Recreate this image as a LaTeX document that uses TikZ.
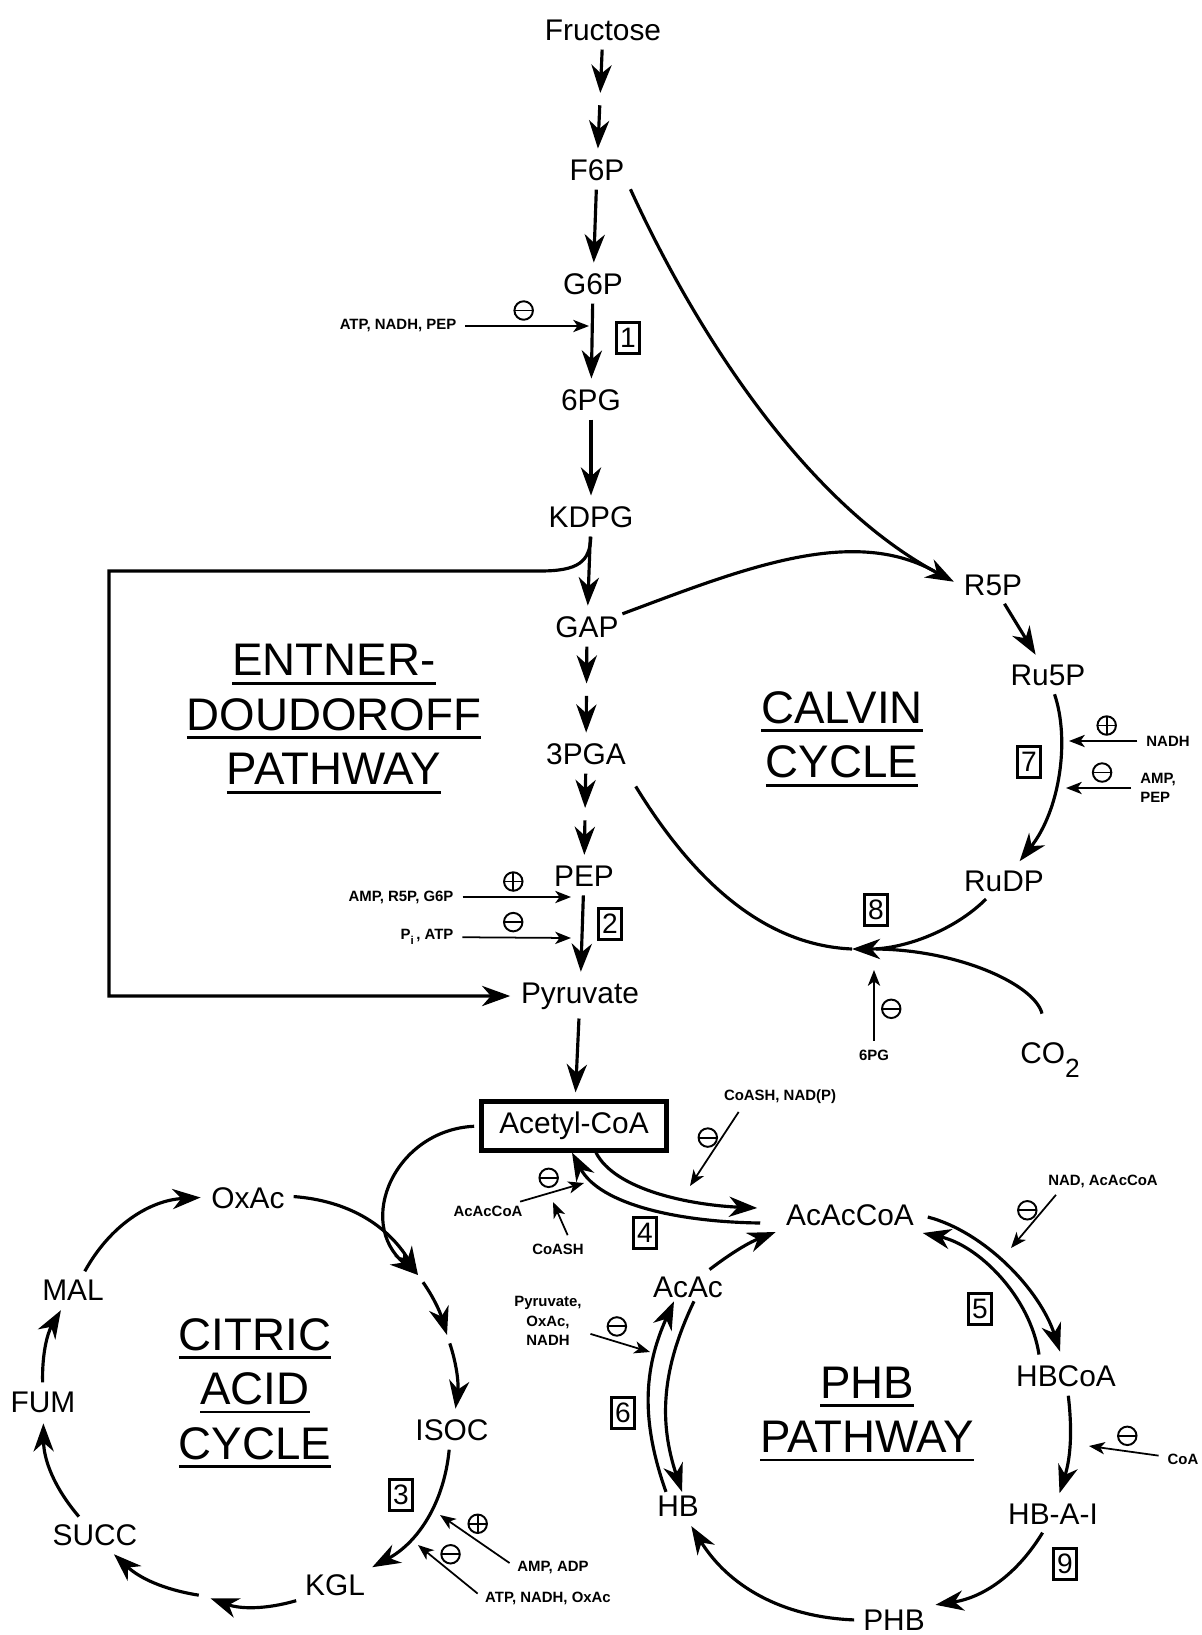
\documentclass[tikz,border=0pt]{standalone}
\usepackage{fontspec}
\setmainfont{Liberation Sans}
\usetikzlibrary{arrows.meta, positioning, calc}
\newcommand{\ttlul}[1]{\setbox0\hbox{#1}\rlap{\rule[-5pt]{\wd0}{1.6pt}}\box0}

\begin{document}
\begin{tikzpicture}[x=0.02cm, y=-0.02cm,
  >=Stealth,
  met/.style={font=\fontsize{17}{20}\selectfont, inner sep=2pt},
  eff/.style={font=\fontsize{8.5}{11}\selectfont\bfseries, align=center, inner sep=1pt},
  enz/.style={draw, line width=1.3pt, font=\fontsize{16}{16}\selectfont, minimum width=0.46cm, minimum height=0.62cm, inner sep=0pt},
  ttl/.style={font=\fontsize{26}{31}\selectfont, align=center},
  bar/.style={-, shorten <=0pt, shorten >=0pt, line width=1.1pt},
  minus/.style={circle, draw, line width=1.1pt, minimum size=0.37cm, inner sep=0pt,
    path picture={\draw[bar] (path picture bounding box.west) -- (path picture bounding box.east);}},
  plus/.style={minus,
    path picture={\draw[bar] (path picture bounding box.west) -- (path picture bounding box.east)
      (path picture bounding box.north) -- (path picture bounding box.south);}},
  rx/.style={-{Stealth[length=16pt, width=11.5pt, inset=5pt]}, line width=1.8pt, shorten <=3pt, shorten >=4pt},
  ln/.style={line width=1.8pt},
  reg/.style={-{Stealth[length=9pt, width=7pt, inset=2.5pt]}, line width=1pt, shorten <=4pt}
]
\useasboundingbox (0,0) rectangle (1202,1635);

\node[met] (fru) at (603,30) {Fructose};
\node[met] (f6p) at (597,170) {F6P};
\node[met] (g6p) at (593,284) {G6P};
\node[met] (pg6) at (591,400) {6PG};
\node[met] (kdpg) at (591,517) {KDPG};
\node[met] (gap) at (587,627) {GAP};
\node[met] (pga3) at (586,754) {3PGA};
\node[met] (pep) at (584,876) {PEP};
\node[met] (pyr) at (580,996) {Pyruvate};
\node[met, draw, line width=2.4pt, minimum width=3.7cm, minimum height=0.98cm] (acoa) at (574,1126) {Acetyl-CoA};

\node[met] (r5p) at (993,585) {R5P};
\node[met] (ru5p) at (1048,675) {Ru5P};
\node[met] (rudp) at (1004,881) {RuDP};
\node[met] (co2) at (1050,1060) {CO\raisebox{-0.9ex}{\fontsize{15}{15}\selectfont 2}};

\node[met] (oxac) at (248,1198) {OxAc};
\node[met] (isoc) at (452,1430) {ISOC};
\node[met] (kgl) at (335,1585) {KGL};
\node[met] (succ) at (95,1535) {SUCC};
\node[met] (fum) at (43,1402) {FUM};
\node[met] (mal) at (73,1290) {MAL};

\node[met] (aacoa) at (850,1215) {AcAcCoA};
\node[met] (hbcoa) at (1066,1376) {HBCoA};
\node[met] (hbai) at (1053,1514) {HB-A-I};
\node[met] (phb) at (894,1620) {PHB};
\node[met] (hb) at (678,1506) {HB};
\node[met] (acac) at (688,1287) {AcAc};

\node[ttl] (edp) at (334,719) {\ttlul{ENTNER-}\\\ttlul{DOUDOROFF}\\\ttlul{PATHWAY}};
\node[ttl] (cvc) at (842,739) {\ttlul{CALVIN}\\\ttlul{CYCLE}};
\node[ttl] (tca) at (255,1393) {\ttlul{CITRIC}\\\ttlul{ACID}\\\ttlul{CYCLE}};
\node[ttl] (phbp) at (867,1414) {\ttlul{PHB}\\\ttlul{PATHWAY}};

\node[enz] (e1) at (628,338) {1};
\node[enz] (e2) at (610,924) {2};
\node[enz] (e3) at (401,1495) {3};
\node[enz] (e4) at (645,1233) {4};
\node[enz] (e5) at (980,1309) {5};
\node[enz] (e6) at (623,1413) {6};
\node[enz] (e7) at (1029,762) {7};
\node[enz] (e8) at (876,910) {8};
\node[enz] (e9) at (1065,1564) {9};

\node[eff] (atp1) at (398,326) {ATP, NADH, PEP};
\node[eff] (amp2) at (401,897) {AMP, R5P, G6P};
\node[eff] (pi2) at (427,937) {P\raisebox{-.6ex}{\fontsize{6.5}{7}\selectfont i}\,, ATP};
\node[eff] (nadh7) at (1168,741) {NADH};
\node[eff, align=left] (amp7) at (1158,788) {AMP,\\PEP};
\node[eff] (pg8) at (874,1055) {6PG};
\node[eff] (csh4) at (780,1097) {CoASH, NAD(P)};
\node[eff] (aac4) at (488,1211) {AcAcCoA};
\node[eff] (csh4b) at (558,1249) {CoASH};
\node[eff] (nad5) at (1103,1181) {NAD, AcAcCoA};
\node[eff] (pyr6) at (548,1321) {Pyruvate,\\OxAc,\\NADH};
\node[eff] (coa9) at (1183,1459) {CoA};
\node[eff] (amp3) at (553,1567) {AMP, ADP};
\node[eff] (atp3) at (548,1598) {ATP, NADH, OxAc};

\coordinate (fm) at ($(fru)!.5!(f6p)$);
\coordinate (gm) at ($(gap)!.5!(pga3)$);
\coordinate (pm) at ($(pga3)!.5!(pep)$);
\coordinate (mrg) at (934,571);
\coordinate (j8) at (852,949);
\coordinate (j8b) at (876,949);
\coordinate (cit) at (418,1275);
\coordinate (aco) at (447,1335);
\coordinate (sca) at (204,1596);

\coordinate (t1) at (589,326);
\coordinate (t2a) at (571,897);
\coordinate (t2b) at (571,938);
\coordinate (t7a) at (1069,741);
\coordinate (t7b) at (1066,788);
\coordinate (t8) at (874,970);
\coordinate (t4a) at (690,1186);
\coordinate (t4b) at (584,1183);
\coordinate (t4c) at (553,1202);
\coordinate (t5) at (1011,1248);
\coordinate (t6) at (650,1352);
\coordinate (t9) at (1089,1446);
\coordinate (t3a) at (440,1515);
\coordinate (t3b) at (418,1545);

\draw[rx] (fru) -- (fm);
\draw[rx] (fm) -- (f6p);
\draw[rx] (f6p) -- (g6p);
\draw[rx] (g6p) -- (pg6);
\draw[rx] (pg6) -- (kdpg);
\draw[rx] (kdpg) -- (gap);
\draw[rx] (gap) -- (gm);
\draw[rx] (gm) -- (pga3);
\draw[rx] (pga3) -- (pm);
\draw[rx] (pm) -- (pep);
\draw[rx] (pep) -- (pyr);
\draw[rx] (pyr) -- (acoa);
\draw[rx] (kdpg.south) .. controls (590,562) and (578,571) .. (540,571) -- (109,571) |- (pyr.west);

\draw[rx] (f6p.south east) .. controls (690,320) and (800,500) .. (r5p.west);
\draw[ln] (gap) .. controls (740,570) and (850,525) .. (mrg);
\draw[rx] (r5p) -- (ru5p);
\draw[rx] (ru5p) .. controls (1070,740) and (1060,810) .. (rudp);
\draw[rx, shorten >=0pt] (rudp) .. controls (955,930) and (905,949) .. (j8);
\draw[ln] ($(co2.north)+(-8,-25)$) .. controls (1035,985) and (960,950) .. (j8b);
\draw[ln] (j8) .. controls (760,945) and (690,875) .. ($(pga3.south east)+(6,18)$);

\draw[rx, shorten >=0pt] (acoa.west) .. controls (395,1130) and (355,1222) .. (cit);
\draw[rx] (mal) to[bend left=29] (oxac);
\draw[rx, shorten >=0pt] (oxac) to[bend left=27] (cit);
\draw[rx, shorten <=5pt, shorten >=0pt] (cit) to[bend left=9] (aco);
\draw[rx, shorten <=5pt] (aco) to[bend left=13] (isoc);
\draw[rx] (isoc) to[bend left=28] (kgl);
\draw[rx] (kgl) to[bend left=18] (sca);
\draw[rx] (sca) to[bend left=17] (succ);
\draw[rx] (succ) to[bend left=20] (fum);
\draw[rx] (fum) to[bend left=16] (mal);

\draw[rx, shorten <=0pt, shorten >=0pt] ($(acoa.south)+(22,0)$) .. controls (615,1190) and (690,1205) .. ($(aacoa.west)+(-25,-7)$);
\draw[rx, shorten <=0pt, shorten >=0pt] ($(aacoa.west)+(-22,8)$) .. controls (680,1222) and (600,1205) .. ($(acoa.south)+(-2,0)$);
\draw[rx] (acac) to[bend left=8] (aacoa.south west);
\draw[rx, shorten <=0pt, shorten >=0pt] ($(aacoa.east)+(10,2)$) .. controls (985,1232) and (1040,1290) .. ($(hbcoa.north)+(-6,-10)$);
\draw[rx, shorten <=0pt, shorten >=0pt] ($(hbcoa.north)+(-27,-7)$) .. controls (1030,1296) and (978,1245) .. ($(aacoa.east)+(5,18)$);
\draw[rx] (hbcoa) to[bend left=12] (hbai);
\draw[rx] (hbai) to[bend left=25] (phb.north east);
\draw[rx] (phb) to[bend left=28] (hb);
\draw[rx, shorten <=0pt, shorten >=0pt] ($(hb.north)+(-12,0)$) to[bend left=22] ($(acac.south)+(-14,0)$);
\draw[rx, shorten <=0pt, shorten >=0pt] ($(acac.south)+(6,0)$) to[bend right=22] ($(hb.north)+(4,0)$);

\draw[reg] (atp1) -- node[minus, above=3pt] (m1) {} (t1);
\draw[reg] (amp2) -- node[plus, above=3pt] (m2a) {} (t2a);
\draw[reg] (pi2) -- node[minus, above=3pt] (m2b) {} (t2b);
\draw[reg] (nadh7) -- node[plus, above=3pt] (m7a) {} (t7a);
\draw[reg] (amp7) -- node[minus, above=3pt] (m7b) {} (t7b);
\draw[reg] (pg8) -- node[minus, right=4pt] (m8) {} (t8);
\draw[reg] ([xshift=-0.75cm]csh4.south) -- node[minus, above left=1pt] (m4a) {} (t4a);
\draw[reg] (aac4) -- node[minus, above=3pt] (m4b) {} (t4b);
\draw[reg] ([xshift=0.25cm]csh4b.north) -- (t4c);
\draw[reg] ([xshift=-0.85cm]nad5.south) -- node[minus, above left=1pt] (m5) {} (t5);
\draw[reg] (pyr6) -- node[minus, above=3pt] (m6) {} (t6);
\draw[reg] (coa9) -- node[minus, above=3pt] (m9) {} (t9);
\draw[reg] (amp3.west) -- node[plus, above=4pt] (m3a) {} (t3a);
\draw[reg] (atp3.west) -- node[minus, above=4pt] (m3b) {} (t3b);
\end{tikzpicture}
\end{document}
